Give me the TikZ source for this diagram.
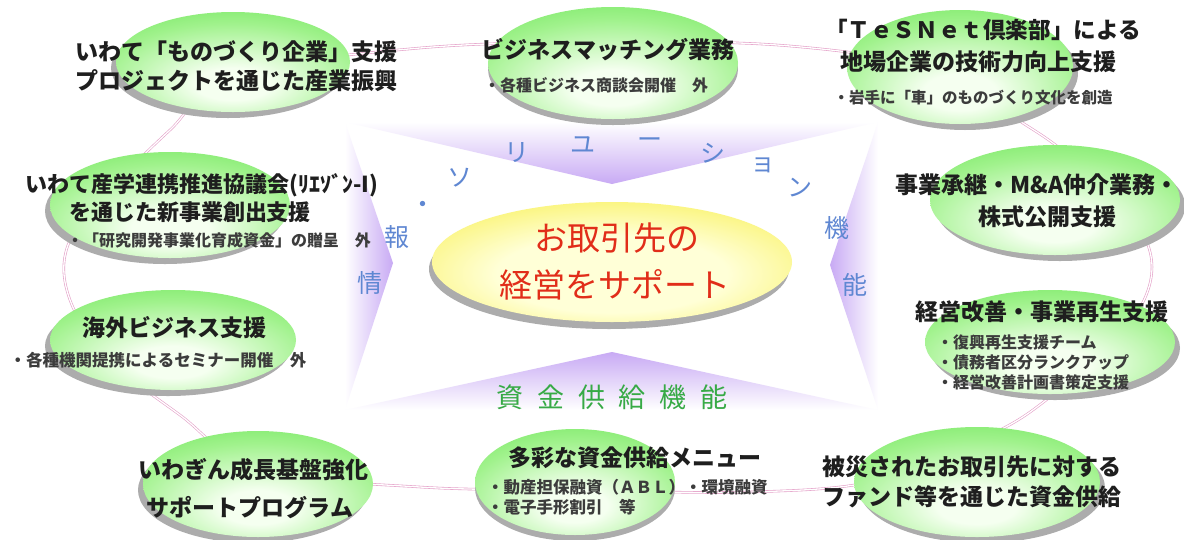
\documentclass[tikz,border=0pt]{standalone}
\usepackage{fontspec}
\setmainfont{Noto Sans CJK JP}
\usetikzlibrary{shapes.geometric}
\definecolor{gout}{RGB}{105,228,85}
\definecolor{gmid}{RGB}{160,242,140}
\definecolor{gin}{RGB}{245,255,240}
\definecolor{yout}{RGB}{246,234,30}
\definecolor{yin}{RGB}{255,255,215}
\definecolor{shadowgray}{RGB}{172,172,172}
\definecolor{ringpink}{RGB}{228,160,200}
\definecolor{lav}{RGB}{200,170,244}
\definecolor{solblue}{RGB}{95,135,210}
\definecolor{redtxt}{RGB}{225,45,25}
\definecolor{greentxt}{RGB}{55,170,70}
\definecolor{txt}{RGB}{30,30,30}
\definecolor{subtxt}{RGB}{60,60,60}
\pgfdeclareradialshading{greenball}{\pgfpoint{0bp}{-12bp}}{color(0bp)=(gin); color(8bp)=(gin); color(28bp)=(gmid); color(44bp)=(gout); color(100bp)=(gout)}
\pgfdeclareradialshading{yellowball}{\pgfpoint{0bp}{-6bp}}{color(0bp)=(yin); color(16bp)=(yin); color(45bp)=(yout); color(100bp)=(yout)}
\newcommand\GEll[6]{%
  \node[sh, minimum width={2*#4}, minimum height={2*#5}] (#1s) at ({#2+(#6)},{#3+6}) {};
  \node[gell, minimum width={2*#4}, minimum height={2*#5}] (#1) at (#2,#3) {};}
\begin{document}
\begin{tikzpicture}[x=1pt,y=-1pt,
  sh/.style={ellipse, inner sep=0, fill=shadowgray},
  gell/.style={ellipse, inner sep=0, shade, shading=greenball},
  yell/.style={ellipse, inner sep=0, shade, shading=yellowball},
  ring/.style={draw=ringpink, double=white, double distance=1.3pt, line width=0.6pt},
  hd/.style={inner sep=0, text=txt, font=\bfseries\fontsize{23}{27}\selectfont},
  sub/.style={inner sep=0, text=subtxt, font=\bfseries\fontsize{16}{19}\selectfont},
  sol/.style={inner sep=0, text=solblue, font=\fontsize{25}{29}\selectfont},
  fund/.style={inner sep=0, text=greentxt, font=\fontsize{27}{31}\selectfont},
  ctr/.style={inner sep=0, text=redtxt, font=\fontsize{33}{38}\selectfont}]
\useasboundingbox (0,0) rectangle (1184,539);
\fill[white] (0,0) rectangle (1184,539);
% purple wedges
\shade[top color=white, bottom color=lav] (345,122) -- (878,122) -- (612,184) -- cycle;
\shade[left color=white, right color=lav] (345,122) -- (393,263) -- (345,410) -- cycle;
\shade[bottom color=white, top color=lav] (345,410) -- (612,352) -- (878,410) -- cycle;
\shade[right color=white, left color=lav] (878,122) -- (830,265) -- (878,410) -- cycle;
% ring
\draw[ring] plot[smooth cycle, tension=0.6] coordinates {(235,75) (420,48) (613,42) (790,46) (940,70) (1015,118) (1062,150) (1125,205) (1152,267) (1125,330) (1050,397) (990,435) (880,480) (750,492) (575,490) (420,487) (260,470) (180,415) (110,360) (70,300) (68,245) (110,190) (170,130)};
% green ellipses
\GEll{e1}{233}{62}{117}{50}{-5}
\GEll{e2}{613}{63}{125}{56}{0}
\GEll{e3}{960}{67}{113}{57}{5}
\GEll{e4}{170}{205}{120}{53}{-5}
\GEll{e5}{173}{340}{123}{50}{-5}
\GEll{e6}{258}{484}{115}{53}{-5}
\GEll{e7}{575}{482}{100}{53}{0}
\GEll{e8}{1055}{200}{125}{55}{5}
\GEll{e9}{1050}{342}{125}{52}{5}
\GEll{e10}{977}{482}{123}{55}{5}
% center
\node[sh, minimum width=360, minimum height=120] (cs) at (609,269) {};
\node[yell, minimum width=360, minimum height=120] (c) at (612,262) {};
\node[ctr] (ct1) at (617,238) {お取引先の};
\node[ctr] (ct2) at (615,285) {経営をサポート};
% solution arc
\node[sol] (s0) at (423,207) {・};
\node[sol] (s1) at (460,178) {ソ};
\node[sol] (s2) at (517,153) {リ};
\node[sol] (s3) at (583,145) {ユ};
\node[sol] (s4) at (650,143) {ー};
\node[sol] (s5) at (713,153) {シ};
\node[sol] (s6) at (763,165) {ョ};
\node[sol] (s7) at (800,188) {ン};
\node[sol] (s8) at (837,228) {機};
\node[sol] (s9) at (855,285) {能};
\node[sol] (s10) at (397,237) {報};
\node[sol] (s11) at (370,283) {情};
% funding
\node[fund] (f1) at (510,397) {資};
\node[fund] (f2) at (551,397) {金};
\node[fund] (f3) at (592,397) {供};
\node[fund] (f4) at (632,397) {給};
\node[fund] (f5) at (673,397) {機};
\node[fund] (f6) at (714,397) {能};
% texts
\node[hd] (t1a) at (236,52) {いわて「ものづくり企業」支援};
\node[hd] (t1b) at (236,81) {プロジェクトを通じた産業振興};
\node[hd] (t2a) at (608,50) {ビジネスマッチング業務};
\node[sub] (t2b) at (596,85) {・各種ビジネス商談会開催　外};
\node[hd, font=\bfseries\fontsize{22.6}{27}\selectfont] (t3a) at (983,30) {「ＴｅＳＮｅｔ倶楽部」による};
\node[hd] (t3b) at (978,62) {地場企業の技術力向上支援};
\node[sub, font=\bfseries\fontsize{15.5}{19}\selectfont] (t3c) at (973,98) {・岩手に「車」のものづくり文化を創造};
\node[hd, font=\bfseries\fontsize{22}{27}\selectfont] (t4a) at (202,185) {いわて産学連携推進協議会(ﾘｴｿﾞﾝ-I)};
\node[hd, font=\bfseries\fontsize{22}{27}\selectfont] (t4b) at (190,212) {を通じた新事業創出支援};
\node[sub] (t4c) at (219,240) {・「研究開発事業化育成資金」の贈呈　外};
\node[hd] (t5a) at (174,328) {海外ビジネス支援};
\node[sub, font=\bfseries\fontsize{16.5}{19}\selectfont] (t5b) at (158,360) {・各種機関提携によるセミナー開催　外};
\node[hd] (t6a) at (253,470) {いわぎん成長基盤強化};
\node[hd] (t6b) at (250,508) {サポートプログラム};
\node[hd] (t7a) at (635,458) {多彩な資金供給メニュー};
\node[sub, anchor=west, font=\bfseries\fontsize{16.5}{19}\selectfont] (t7b) at (487,487) {・動産担保融資（ＡＢＬ）・環境融資};
\node[sub, anchor=west, font=\bfseries\fontsize{16.5}{19}\selectfont] (t7c) at (487,507) {・電子手形割引　等};
\node[hd] (t8a) at (1037,185) {事業承継・M\&A仲介業務・};
\node[hd] (t8b) at (1047,217) {株式公開支援};
\node[hd] (t9a) at (1042,312) {経営改善・事業再生支援};
\node[sub, anchor=west] (t9b) at (937,342) {・復興再生支援チーム};
\node[sub, anchor=west] (t9c) at (937,362) {・債務者区分ランクアップ};
\node[sub, anchor=west] (t9d) at (937,382) {・経営改善計画書策定支援};
\node[hd] (t10a) at (972,467) {被災されたお取引先に対する};
\node[hd] (t10b) at (972,497) {ファンド等を通じた資金供給};
\end{tikzpicture}
\end{document}
